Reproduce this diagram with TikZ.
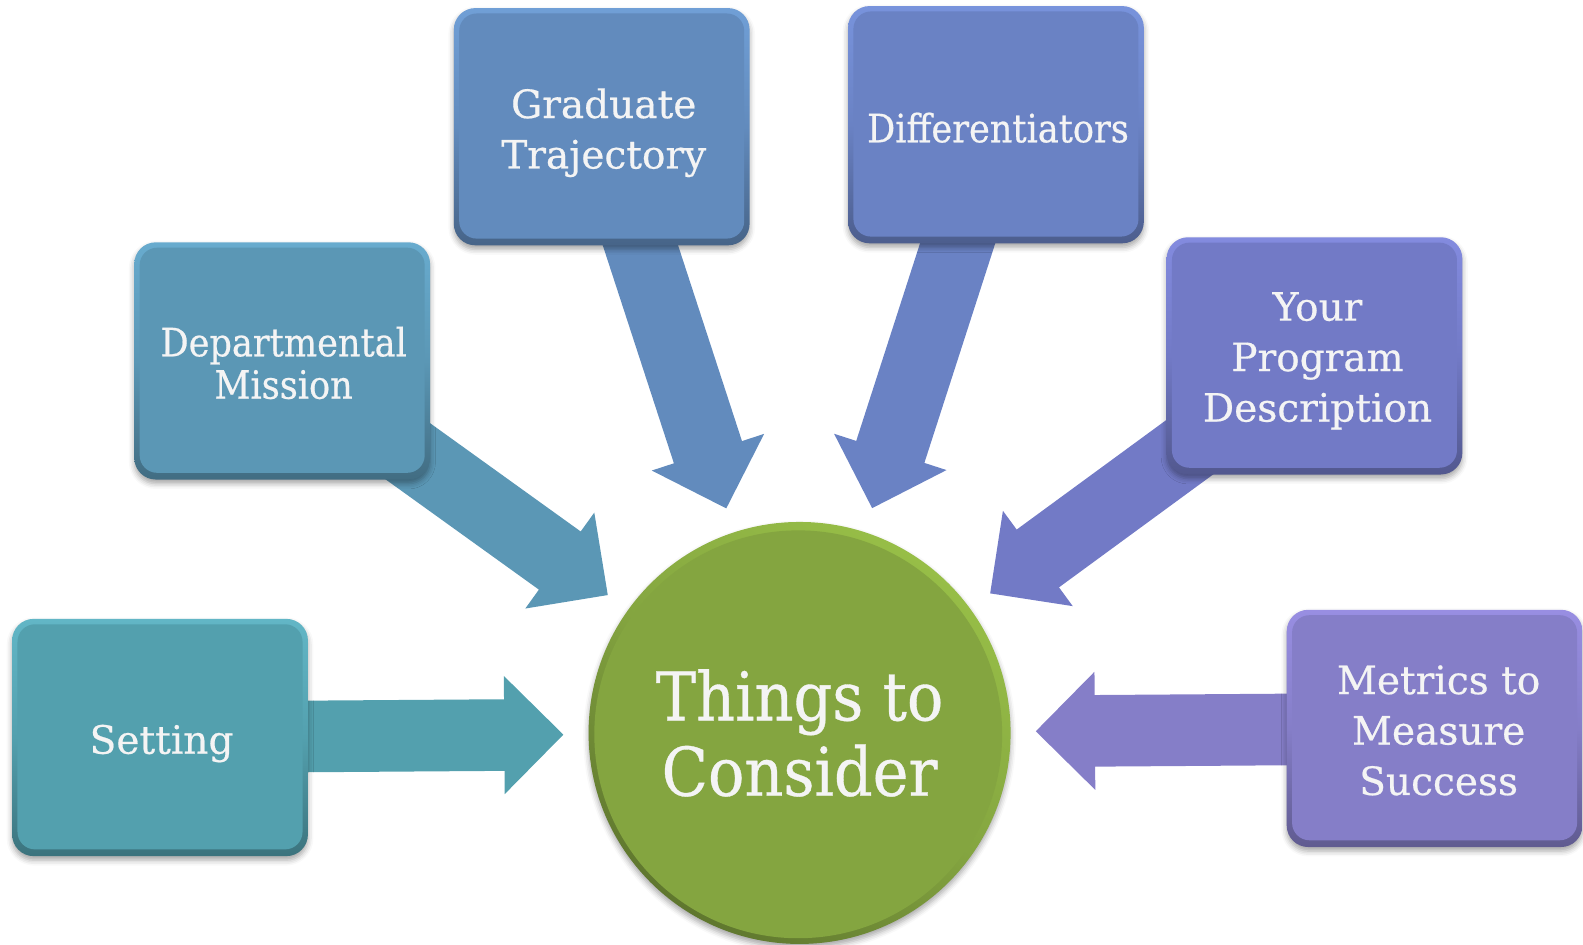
\documentclass[tikz,border=0pt]{standalone}
\usepackage{fontspec}
\setmainfont{DejaVu Serif}[FakeBold=0.5]
\newfontfamily\narrowf{DejaVu Serif}[FakeStretch=0.9,FakeBold=0.5]
\usetikzlibrary{calc,shadows.blur,backgrounds}
\definecolor{cSet}{HTML}{53A0AE}\definecolor{lSet}{HTML}{62B6C6}
\definecolor{cDep}{HTML}{5B97B5}\definecolor{lDep}{HTML}{68ABCE}
\definecolor{cGra}{HTML}{628BBD}\definecolor{lGra}{HTML}{709FD6}
\definecolor{cDif}{HTML}{6A82C4}\definecolor{lDif}{HTML}{7893DC}
\definecolor{cYou}{HTML}{727AC6}\definecolor{lYou}{HTML}{838BDF}
\definecolor{cMet}{HTML}{857EC8}\definecolor{lMet}{HTML}{988EE2}
\definecolor{cCir}{HTML}{84A540}\definecolor{lCir}{HTML}{97BE47}
\definecolor{txt}{HTML}{F4F4F4}
\tikzset{
  tbox/.style 2 args={rectangle, rounded corners=16pt, minimum width=219.75pt,
    minimum height=176.25pt, inner sep=0pt,
    top color=#2, bottom color=#1!72!black, middle color=#1,
    blur shadow={shadow xshift=0pt, shadow yshift=-3pt, shadow blur radius=4pt, shadow opacity=35},
    path picture={\fill[#1, rounded corners=13pt]
      ([shift={(4pt,-4pt)}]path picture bounding box.north west) rectangle
      ([shift={(-4pt,5pt)}]path picture bounding box.south east);}},
  tlab/.style={inner sep=0pt, text=txt, align=center,
    font=\fontsize{29pt}{37.5pt}\selectfont},
  tcircle/.style={circle, minimum size=313.5pt, inner sep=0pt, text=txt, align=center,
    font=\narrowf\fontsize{50pt}{56pt}\selectfont,
    shading=axis, top color=lCir, bottom color=cCir!72!black, middle color=cCir, shading angle=-35,
    blur shadow={shadow xshift=0pt, shadow yshift=-3pt, shadow blur radius=4pt, shadow opacity=35},
    path picture={\fill[cCir] ([shift={(-1pt,-1pt)}]path picture bounding box.center) circle (151.5pt);}}
}
\newcommand\blockarrow[3]{%
  \path ($(#2)!175.5pt!(#1)$) coordinate (T) ($(T)!43.9pt!(#1)$) coordinate (B);
  \fill[#3] ($(#1)!26.6pt!90:(T)$) -- ($(B)!26.6pt!90:(T)$) -- ($(B)!43.9pt!90:(T)$)
    -- (T) -- ($(B)!43.9pt!-90:(T)$) -- ($(B)!26.6pt!-90:(T)$) -- ($(#1)!26.6pt!-90:(T)$) -- cycle;
}
\begin{document}
\begin{tikzpicture}[x=0.75pt,y=-0.75pt]
\useasboundingbox (0,0) rectangle (1568,936);
\node[tbox={cSet}{lSet}] (set) at (158.5,730.5) {};
\node[tbox={cDep}{lDep}] (dep) at (279.5,357.5) {};
\node[tbox={cGra}{lGra}] (gra) at (596,125.5) {};
\node[tbox={cDif}{lDif}] (dif) at (986.5,123.5) {};
\node[tbox={cYou}{lYou}] (you) at (1302,352.5) {};
\node[tbox={cMet}{lMet}] (met) at (1421,721.5) {};
\node[tlab] (set-t) at ($(set)+(1.5,6)$) {Setting};
\node[tlab, font=\narrowf\fontsize{29pt}{31.5pt}\selectfont] (dep-t) at ($(dep)+(1.5,2)$) {Departmental\\Mission};
\node[tlab] (gra-t) at ($(gra)+(2,6)$) {Graduate\\Trajectory};
\node[tlab, font=\narrowf\fontsize{29pt}{37.5pt}\selectfont] (dif-t) at ($(dif)+(2,3)$) {Differentiators};
\node[tlab] (you-t) at ($(you)+(3,5)$) {Your\\Program\\Description};
\node[tlab] (met-t) at ($(met)+(4,2)$) {Metrics to\\Measure\\Success};
\node[tcircle] (c) at (792,726) {Things to\\Consider};
\begin{scope}[on background layer]
\blockarrow{set}{c}{cSet}
\blockarrow{dep}{c}{cDep}
\blockarrow{gra}{c}{cGra}
\blockarrow{dif}{c}{cDif}
\blockarrow{you}{c}{cYou}
\blockarrow{met}{c}{cMet}
\end{scope}
\end{tikzpicture}
\end{document}
